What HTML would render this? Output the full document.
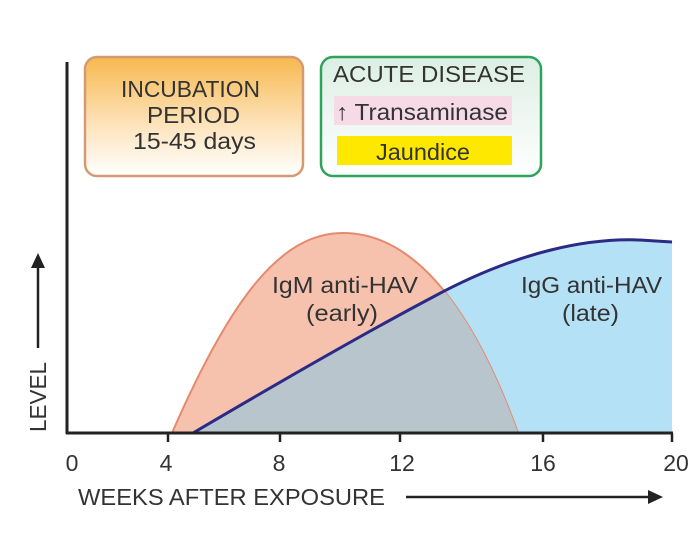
<!DOCTYPE html>
<html><head><style>
body{margin:0;width:692px;height:532px;background:#fff;overflow:hidden}
</style></head><body>
<svg width="692" height="532" xmlns="http://www.w3.org/2000/svg" font-family="Liberation Sans, sans-serif">
<defs>
<linearGradient id="og" x1="0" y1="0" x2="0" y2="1">
<stop offset="0" stop-color="#f7b84e"/><stop offset="0.55" stop-color="#fde2b8"/><stop offset="1" stop-color="#ffffff"/>
</linearGradient>
<linearGradient id="gg" x1="0" y1="0" x2="0" y2="1">
<stop offset="0" stop-color="#dcefe4"/><stop offset="1" stop-color="#ffffff"/>
</linearGradient>
<clipPath id="igm"><path d="M172,433 C230,300 280,233 343,233 C410,233 470,300 518,433 Z"/></clipPath>
</defs>
<!-- boxes -->
<rect x="85" y="57" width="218" height="119" rx="12" fill="url(#og)" stroke="#d49a72" stroke-width="2.5"/>
<g font-size="23" fill="#333">
<text x="121" y="97" textLength="139" lengthAdjust="spacingAndGlyphs">INCUBATION</text>
<text x="147" y="123" textLength="93" lengthAdjust="spacingAndGlyphs">PERIOD</text>
<text x="133" y="149" textLength="123" lengthAdjust="spacingAndGlyphs">15-45  days</text>
</g>
<rect x="321" y="57" width="220" height="119" rx="12" fill="url(#gg)" stroke="#2ea35a" stroke-width="2.5"/>
<text x="333" y="82" font-size="23" fill="#333" textLength="192" lengthAdjust="spacingAndGlyphs">ACUTE DISEASE</text>
<rect x="334" y="96" width="178" height="29" fill="#f6dbe6"/>
<text x="336" y="120" font-size="23" fill="#333" textLength="172" lengthAdjust="spacingAndGlyphs">↑ Transaminase</text>
<rect x="337" y="136" width="175" height="29" fill="#ffe800"/>
<text x="376" y="160" font-size="23" fill="#333" textLength="94" lengthAdjust="spacingAndGlyphs">Jaundice</text>
<!-- areas -->
<path d="M193,433 C300,370 380,325 433,297 C520,250 590,238 640,240 L672,242 L672,433 Z" fill="#b5e1f6"/>
<path d="M172,433 C230,300 280,233 343,233 C410,233 470,300 518,433 Z" fill="#f6c2ae" stroke="#e58a6c" stroke-width="2"/>
<path clip-path="url(#igm)" d="M193,433 C300,370 380,325 433,297 C520,250 590,238 640,240 L672,242 L672,433 Z" fill="#b8c5cd"/>
<path d="M193,433 C300,370 380,325 433,297 C520,250 590,238 640,240 L672,242" fill="none" stroke="#2b2a86" stroke-width="3"/>
<text x="272" y="293" font-size="23" fill="#333" textLength="146" lengthAdjust="spacingAndGlyphs">IgM anti-HAV</text>
<text x="306" y="321" font-size="23" fill="#333" textLength="72" lengthAdjust="spacingAndGlyphs">(early)</text>
<text x="521" y="293" font-size="23" fill="#333" textLength="141" lengthAdjust="spacingAndGlyphs">IgG anti-HAV</text>
<text x="562" y="321" font-size="23" fill="#333" textLength="57" lengthAdjust="spacingAndGlyphs">(late)</text>
<!-- axes -->
<line x1="67" y1="62" x2="67" y2="434" stroke="#222" stroke-width="3"/>
<line x1="66" y1="433" x2="673" y2="433" stroke="#222" stroke-width="3"/>
<g stroke="#222" stroke-width="2.5">
<line x1="168" y1="433" x2="168" y2="442"/><line x1="280" y1="433" x2="280" y2="442"/>
<line x1="400" y1="433" x2="400" y2="442"/><line x1="543" y1="433" x2="543" y2="442"/>
<line x1="672" y1="433" x2="672" y2="442"/>
</g>
<g font-size="23" fill="#333" text-anchor="middle">
<text x="72" y="471">0</text><text x="166" y="471">4</text><text x="279" y="471">8</text>
<text x="402" y="471">12</text><text x="543" y="471">16</text><text x="676" y="471">20</text>
</g>
<text x="78" y="505" font-size="23" fill="#333" textLength="307" lengthAdjust="spacingAndGlyphs">WEEKS AFTER EXPOSURE</text>
<line x1="406" y1="497" x2="650" y2="497" stroke="#222" stroke-width="2.5"/>
<path d="M663,497 L648,490 L648,504 Z" fill="#222"/>
<text transform="translate(46,432) rotate(-90)" font-size="23" fill="#333" textLength="70" lengthAdjust="spacingAndGlyphs">LEVEL</text>
<line x1="38" y1="348" x2="38" y2="265" stroke="#222" stroke-width="2.5"/>
<path d="M38,253 L31,268 L45,268 Z" fill="#222"/>
</svg>
</body></html>
